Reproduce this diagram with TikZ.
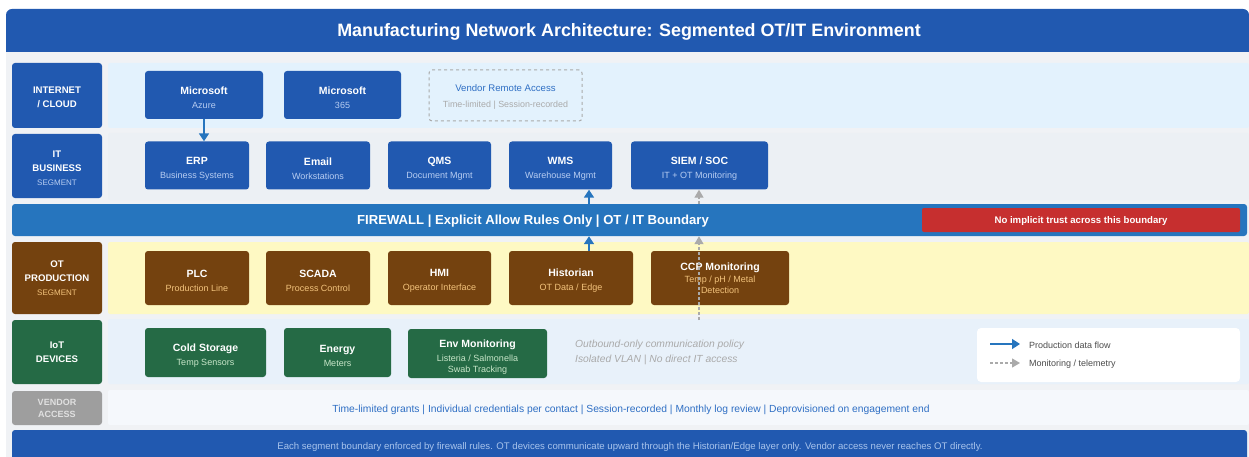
\documentclass[tikz,border=0pt]{standalone}
\usepackage{fontspec}
\setmainfont{Liberation Sans}
\usetikzlibrary{arrows.meta,calc}
\definecolor{titleblue}{HTML}{2159B0}
\definecolor{nodeblue}{HTML}{2159B0}
\definecolor{fwblue}{HTML}{2675BE}
\definecolor{pagegray}{HTML}{F0F2F5}
\definecolor{bandnet}{HTML}{E3F2FD}
\definecolor{bandit}{HTML}{ECF0F4}
\definecolor{bandot}{HTML}{FEF9C3}
\definecolor{bandiot}{HTML}{E8F1FA}
\definecolor{bandven}{HTML}{F5F8FC}
\definecolor{brown}{HTML}{74420F}
\definecolor{iotgreen}{HTML}{256A45}
\definecolor{vengray}{HTML}{9E9E9E}
\definecolor{alertred}{HTML}{C62F2F}
\definecolor{itsub}{HTML}{B7CDF2}
\definecolor{otsub}{HTML}{F3C37C}
\definecolor{iotsub}{HTML}{C8E6C9}
\definecolor{soft}{HTML}{AAAAAA}
\definecolor{footsub}{HTML}{A8C4EC}
\definecolor{venblue}{HTML}{2F6FC4}
\newcommand{\tb}[1]{{\fontsize{10.5}{12}\selectfont\bfseries\rule{0pt}{13.5pt}#1}}
\newcommand{\tbx}[2]{{\fontsize{10.5}{12}\selectfont\bfseries\rule{0pt}{#1}#2}}
\newcommand{\ts}[2]{{\fontsize{9}{11}\selectfont\color{#1}#2}}
\newcommand{\lstrut}{\rule{0pt}{11pt}}
\tikzset{
  box/.style={rounded corners=3pt, inner sep=0pt, align=center, text=white},
  itnode/.style={box, fill=nodeblue, minimum height=48},
  otnode/.style={box, fill=brown, minimum height=54},
  iotnode/.style={box, fill=iotgreen, minimum height=49},
  lab/.style={box, minimum width=90, font=\fontsize{9.6}{14}\selectfont\bfseries},
  flow/.style={draw=fwblue, line width=1.6pt, -{Triangle[width=10pt,length=8pt]}},
  mon/.style={draw=soft, line width=1.4pt, dash pattern=on 3pt off 2pt, -{Triangle[width=9pt,length=8pt]}},
}
\begin{document}
\begin{tikzpicture}[x=1pt,y=-1pt]
\useasboundingbox (0,0) rectangle (1249,457);
\fill[white] (0,0) rectangle (1249,457);
\fill[pagegray] (6,40) rectangle (1249,457);
% title
\fill[titleblue] (6,35) rectangle (1249,52);
\node[fill=titleblue, rounded corners=6pt, minimum width=1243, minimum height=43, inner sep=0pt] (title) at (627.5,30.5) {};
\node[text=white, inner sep=0pt, font=\fontsize{17.9}{21}\selectfont\bfseries] (titletext) at (629,32) {Manufacturing Network Architecture: Segmented OT/IT Environment};
% bands
\fill[bandnet, rounded corners=2pt] (108,63) rectangle (1249,128);
\fill[bandit, rounded corners=2pt] (108,133) rectangle (1249,200);
\fill[bandot, rounded corners=2pt] (108,242) rectangle (1249,314);
\fill[bandiot, rounded corners=2pt] (108,319) rectangle (1249,384);
\fill[bandven, rounded corners=2pt] (108,390) rectangle (1249,425);
% labels
\node[lab, fill=nodeblue, minimum height=65] (lnet) at (57,95.5) {\lstrut INTERNET\\/ CLOUD};
\node[lab, fill=nodeblue, minimum height=64] (lit) at (57,166) {\lstrut IT\\BUSINESS\\{\fontsize{8}{14}\selectfont\mdseries\color{itsub}SEGMENT}};
\node[lab, fill=brown, minimum height=72] (lot) at (57,278) {OT\\PRODUCTION\\{\fontsize{8}{14}\selectfont\mdseries\color{otsub}SEGMENT}};
\node[lab, fill=iotgreen, minimum height=64] (liot) at (57,352) {IoT\\DEVICES};
\node[lab, fill=vengray, minimum height=34, text=white!88!black, font=\fontsize{9}{12}\selectfont\bfseries] (lven) at (57,408) {VENDOR\\ACCESS};
% firewall
\node[fill=fwblue, rounded corners=3pt, minimum width=1235, minimum height=32, inner sep=0pt] (fw) at (629.5,220) {};
\node[text=white, font=\fontsize{13.1}{15}\selectfont\bfseries, inner sep=0pt] (fwtext) at (533,221.5) {FIREWALL | Explicit Allow Rules Only | OT / IT Boundary};
\node[fill=alertred, rounded corners=2pt, minimum width=318, minimum height=24, inner sep=0pt] (alert) at (1081,220) {};
\node[text=white, inner sep=0pt, font=\fontsize{9.6}{11}\selectfont\bfseries] (alerttext) at (1081,221.5) {No implicit trust across this boundary};
% footer
\node[fill=titleblue, rounded corners=3pt, minimum width=1235, minimum height=34, inner sep=0pt] (foot) at (629.5,447) {};
\node[text=footsub, font=\fontsize{9.6}{11}\selectfont, inner sep=0pt] (foottext) at (630,447) {Each segment boundary enforced by firewall rules. OT devices communicate upward through the Historian/Edge layer only. Vendor access never reaches OT directly.};
% internet row
\node[itnode, minimum width=118] (azure) at (204,95) {\tb{Microsoft}\\[2pt]\ts{itsub}{Azure}};
\node[itnode, minimum width=117] (m365) at (342.5,95) {\tb{Microsoft}\\[2pt]\ts{itsub}{365}};
\node[box, draw=soft, dashed, line width=1pt, fill=bandnet, minimum width=153, minimum height=51] (vra) at (505.5,95.5)
  {{\fontsize{9.6}{11}\selectfont\color{venblue}\rule{0pt}{10.5pt}Vendor Remote Access}\\[4pt]{\fontsize{8.9}{10}\selectfont\color{soft}Time-limited | Session-recorded}};
% IT row
\node[itnode, minimum width=104] (erp) at (197,165.5) {\tb{ERP}\\[2pt]\ts{itsub}{Business Systems}};
\node[itnode, minimum width=104] (email) at (318,165.5) {\tb{Email}\\[2pt]\ts{itsub}{Workstations}};
\node[itnode, minimum width=103] (qms) at (439.5,165.5) {\tb{QMS}\\[2pt]\ts{itsub}{Document Mgmt}};
\node[itnode, minimum width=103] (wms) at (560.5,165.5) {\tb{WMS}\\[2pt]\ts{itsub}{Warehouse Mgmt}};
\node[itnode, minimum width=137] (siem) at (699.5,165.5) {\tb{SIEM / SOC}\\[2pt]\ts{itsub}{IT + OT Monitoring}};
% OT row
\node[otnode, minimum width=104] (plc) at (197,278) {\tb{PLC}\\[2pt]\ts{otsub}{Production Line}};
\node[otnode, minimum width=104] (scada) at (318,278) {\tb{SCADA}\\[2pt]\ts{otsub}{Process Control}};
\node[otnode, minimum width=103] (hmi) at (439.5,278) {\tb{HMI}\\[2pt]\ts{otsub}{Operator Interface}};
\node[otnode, minimum width=124] (hist) at (571,278) {\tb{Historian}\\[2pt]\ts{otsub}{OT Data / Edge}};
\node[otnode, minimum width=138] (ccp) at (720,278) {\tbx{7.7pt}{CCP Monitoring}\\[0pt]\ts{otsub}{Temp / pH / Metal}\\[-1pt]\ts{otsub}{Detection}};
% IoT row
\node[iotnode, minimum width=121] (cold) at (205.5,352.5) {\tb{Cold Storage}\\[2pt]\ts{iotsub}{Temp Sensors}};
\node[iotnode, minimum width=107] (energy) at (337.5,352.5) {\tb{Energy}\\[2pt]\ts{iotsub}{Meters}};
\node[iotnode, minimum width=139] (env) at (477.5,353.5) {\tbx{15.7pt}{Env Monitoring}\\[2pt]\ts{iotsub}{Listeria / Salmonella}\\[-1pt]\ts{iotsub}{Swab Tracking}};
\node[anchor=west, inner sep=0pt, align=left, text=soft, font=\fontsize{10.3}{15}\selectfont\itshape] (policy) at (575,352.5)
  {Outbound-only communication policy\\Isolated VLAN | No direct IT access};
% vendor row
\node[inner sep=0pt, text=venblue, font=\fontsize{10.3}{12}\selectfont] (ventext) at (631,410) {Time-limited grants | Individual credentials per contact | Session-recorded | Monthly log review | Deprovisioned on engagement end};
% legend
\node[fill=white, rounded corners=4pt, minimum width=263, minimum height=54, inner sep=0pt] (legend) at (1108.5,355) {};
\coordinate (lg1a) at (990,344);
\coordinate (lg1b) at (1020,344);
\coordinate (lg2a) at (990,363);
\coordinate (lg2b) at (1020,363);
\draw[flow, line width=1.5pt] (lg1a) -- (lg1b);
\draw[mon, line width=1.3pt] (lg2a) -- (lg2b);
\node[anchor=west, inner sep=0pt, text=black!70, font=\fontsize{9}{10}\selectfont] (lgt1) at (1029,345.5) {Production data flow};
\node[anchor=west, inner sep=0pt, text=black!70, font=\fontsize{9}{10}\selectfont] (lgt2) at (1029,364.5) {Monitoring / telemetry};
% connectors
\coordinate (ax) at (589,0);
\coordinate (mx) at (699,0);
\coordinate (monstart) at (699,320);
\draw[flow] (azure.south) -- (azure.south |- erp.north);
\draw[flow] (hist.north -| ax) -- (fw.south -| ax);
\draw[flow] (fw.north -| ax) -- (wms.south -| ax);
\draw[mon] (monstart) -- (fw.south -| mx);
\draw[mon] (fw.north -| mx) -- (siem.south -| mx);
\end{tikzpicture}
\end{document}
